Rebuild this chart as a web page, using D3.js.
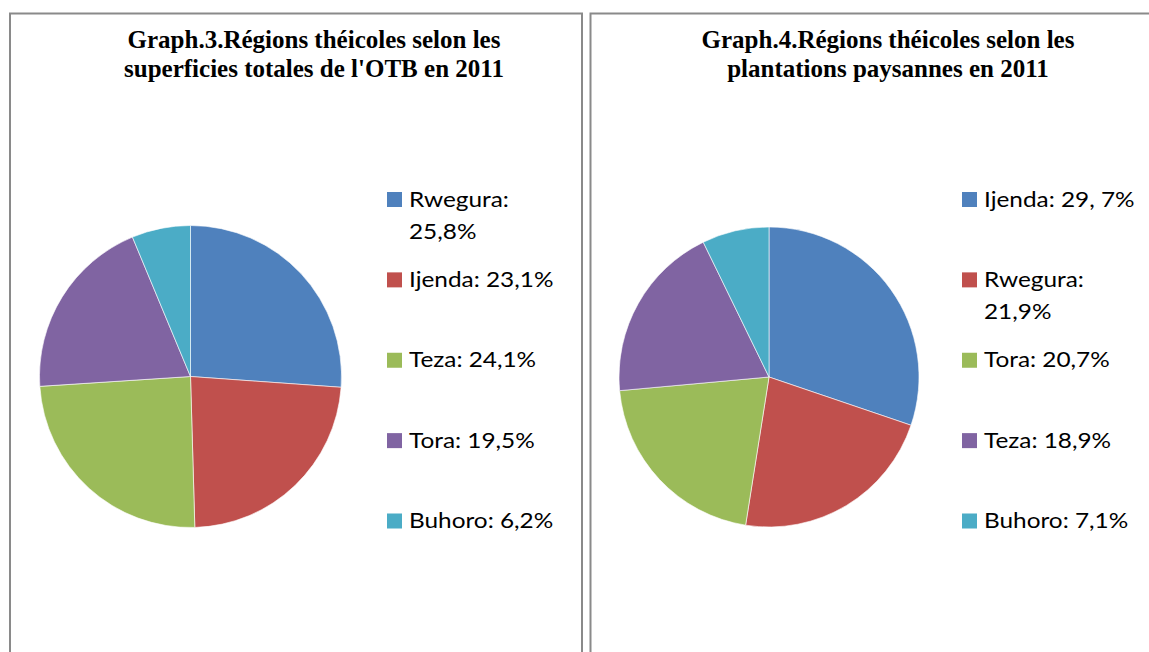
<!DOCTYPE html>
<html>
<head>
<meta charset="utf-8">
<script src="https://cdn.jsdelivr.net/npm/d3@7"></script>
<style>
  body { margin: 0; background: #fff; }
  svg { display: block; }
</style>
</head>
<body>
<svg id="chart" width="1149" height="652"></svg>
<script>
// Graph.3 : superficies totales de l'OTB
let regions3 = ["Rwegura", "Ijenda", "Teza", "Tora", "Buhoro"]
let values3 = [25.8, 23.1, 24.1, 19.5, 6.2]
let labels3 = ["Rwegura: 25,8%", "Ijenda: 23,1%", "Teza: 24,1%", "Tora: 19,5%", "Buhoro: 6,2%"]

// Graph.4 : plantations paysannes
let regions4 = ["Ijenda", "Rwegura", "Tora", "Teza", "Buhoro"]
let values4 = [29.7, 21.9, 20.7, 18.9, 7.1]
let labels4 = ["Ijenda: 29, 7%", "Rwegura: 21,9%", "Tora: 20,7%", "Teza: 18,9%", "Buhoro: 7,1%"]

let title3 = ["Graph.3.Régions théicoles selon les", "superficies totales de l'OTB en 2011"]
let title4 = ["Graph.4.Régions théicoles selon les", "plantations paysannes en 2011"]

// excel 2007 palette, by slot (not by region)
let palette = ["#4f81bd", "#c0504d", "#9bbb59", "#8064a2", "#4bacc6"]

let svg = d3.select("#chart")

let drawPanel = function(conf) {
  let g = svg.append("g")

  // panel frame (bottom runs off the page)
  g.append("path")
    .attr("d", "M" + conf.x0 + ",700V" + conf.top + "H" + conf.x1 + "V700")
    .attr("fill", "none")
    .attr("stroke", "#8a8a8a")
    .attr("stroke-width", 2)

  // title, serif bold
  let t = g.append("text")
    .attr("font-family", "'Liberation Serif', 'Times New Roman', serif")
    .attr("font-weight", "bold")
    .attr("font-size", 25)
    .attr("text-anchor", "middle")
    .attr("fill", "#000")
  conf.title.forEach(function(line, i) {
    t.append("tspan")
      .attr("x", conf.titleX)
      .attr("y", 48 + i * 29)
      .text(line)
  })

  // pie
  let pie = d3.pie().sort(null).value(d => d)
  let arc = d3.arc().innerRadius(0).outerRadius(conf.r)
  let color = d3.scaleOrdinal().domain(conf.cats).range(palette)

  g.append("g")
    .attr("transform", "translate(" + conf.cx + "," + conf.cy + ")")
    .selectAll("path")
    .data(pie(conf.values))
    .join("path")
    .attr("d", arc)
    .attr("fill", (d, i) => color(conf.cats[i]))
    .attr("stroke", "#fff")
    .attr("stroke-width", 0.6)

  // legend
  let y = d3.scalePoint().domain(conf.cats).range([199.5, 521])
  let leg = g.append("g")
  conf.cats.forEach(function(c, i) {
    leg.append("rect")
      .attr("x", conf.legX)
      .attr("y", y(c) - 7.5)
      .attr("width", 15)
      .attr("height", 15)
      .attr("fill", color(c))
  })

  let kx = 1.16 // horizontal stretch to look like calibri
  let maxW = 160
  conf.cats.forEach(function(c, i) {
    let txt = leg.append("text")
      .attr("font-family", "Lato, 'Open Sans', sans-serif")
      .attr("font-size", 21)
      .attr("fill", "#000")
      .attr("transform", "translate(" + (conf.legX + 22) + "," + (y(c) + 7) + ") scale(" + kx + ",1)")
    let span = txt.append("tspan").attr("x", 0).attr("y", 0).text(conf.labels[i])
    if (span.node().getComputedTextLength() * kx > maxW) {
      // wrap after the colon
      let parts = conf.labels[i].split(": ")
      span.text(parts[0] + ":")
      txt.append("tspan").attr("x", 0).attr("y", 32.5).text(parts[1])
    }
  })
}

drawPanel({
  x0: 10, x1: 582, top: 13.5,
  title: title3, titleX: 314,
  cats: regions3, values: values3, labels: labels3,
  cx: 190.5, cy: 376.5, r: 151,
  legX: 387
})

drawPanel({
  x0: 590.5, x1: 1200, top: 13.5,
  title: title4, titleX: 888,
  cats: regions4, values: values4, labels: labels4,
  cx: 769, cy: 377, r: 150,
  legX: 962
})
</script>
</body>
</html>
